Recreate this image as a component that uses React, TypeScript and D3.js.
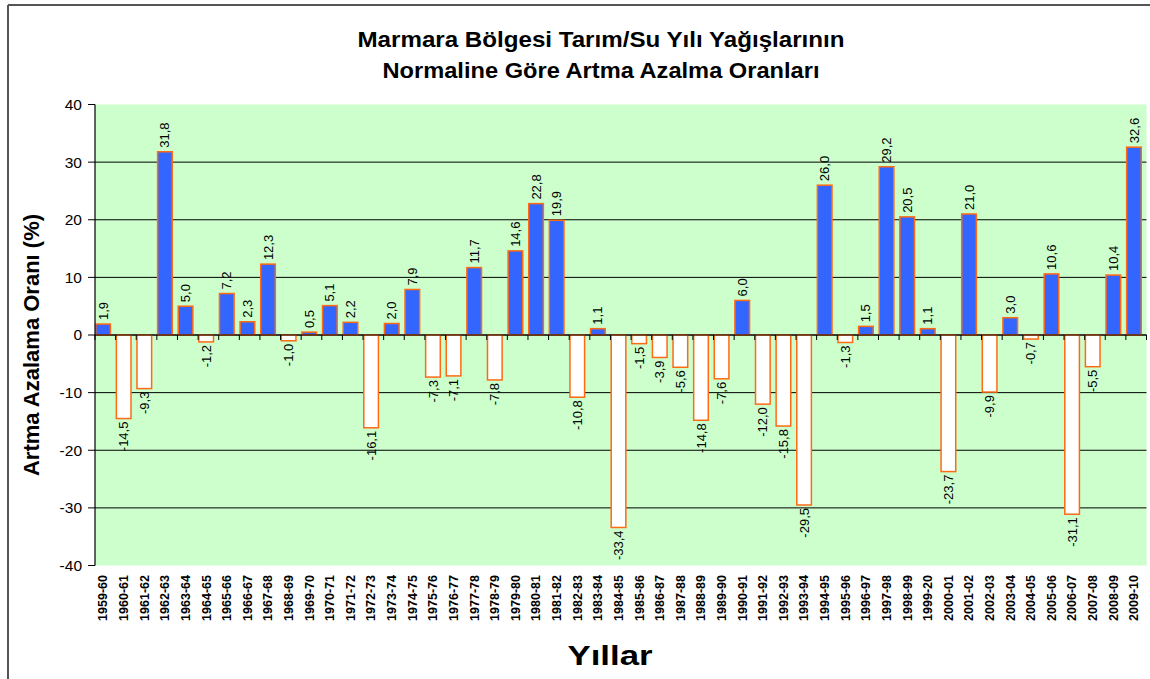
import React from "react";
import * as d3 from "d3";

const categories = [
  "1959-60","1960-61","1961-62","1962-63","1963-64","1964-65","1965-66","1966-67","1967-68","1968-69",
  "1969-70","1970-71","1971-72","1972-73","1973-74","1974-75","1975-76","1976-77","1977-78","1978-79",
  "1979-80","1980-81","1981-82","1982-83","1983-84","1984-85","1985-86","1986-87","1987-88","1988-89",
  "1989-90","1990-91","1991-92","1992-93","1993-94","1994-95","1995-96","1996-97","1997-98","1998-99",
  "1999-20","2000-01","2001-02","2002-03","2003-04","2004-05","2005-06","2006-07","2007-08","2008-09",
  "2009-10",
];

const values = [
  1.9, -14.5, -9.3, 31.8, 5.0, -1.2, 7.2, 2.3, 12.3, -1.0,
  0.5, 5.1, 2.2, -16.1, 2.0, 7.9, -7.3, -7.1, 11.7, -7.8,
  14.6, 22.8, 19.9, -10.8, 1.1, -33.4, -1.5, -3.9, -5.6, -14.8,
  -7.6, 6.0, -12.0, -15.8, -29.5, 26.0, -1.3, 1.5, 29.2, 20.5,
  1.1, -23.7, 21.0, -9.9, 3.0, -0.7, 10.6, -31.1, -5.5, 10.4,
  32.6,
];

const yTicks = [-40, -30, -20, -10, 0, 10, 20, 30, 40];

const titleLines = ["Marmara Bölgesi Tarım/Su Yılı Yağışlarının", "Normaline Göre Artma Azalma Oranları"];
const yTitle = "Artma Azalama Oranı (%)";
const xTitle = "Yıllar";

const W = 1150;
const H = 679;
const plotLeft = 95;
const plotRight = 1146.5;
const plotTop = 104.5;
const plotBottom = 565.5;

const FONT = "'Liberation Sans', Arial, sans-serif";
const BLUE = "#3366FF";
const ORANGE = "#FF6A13";
const GREEN = "#CCFFCC";

const titleWidths = [487, 437];

const fmt = (v: number) => v.toFixed(1).replace(".", ",");

export default function App() {
  const x = d3.scaleBand<string>().domain(categories).range([plotLeft, plotRight]).padding(0);
  const y = d3.scaleLinear().domain([-40, 40]).range([plotBottom, plotTop]);
  const bw = x.bandwidth() * 0.71;
  const y0 = y(0);

  return (
    <svg
      width={W}
      height={H}
      style={{ position: "absolute", left: 0, top: 0, background: "#fff" }}
      fontFamily={FONT}
    >
      {/* outer frame */}
      <line x1={8} y1={5} x2={W} y2={5} stroke="#555" strokeWidth={2} />
      <line x1={8} y1={5} x2={8} y2={H} stroke="#555" strokeWidth={2} />

      {/* title */}
      {titleLines.map((t, i) => (
        <text
          key={t}
          x={601}
          y={47 + i * 31}
          textAnchor="middle"
          fontSize={22}
          fontWeight="bold"
          fill="#000"
          textLength={titleWidths[i]}
          lengthAdjust="spacingAndGlyphs"
        >
          {t}
        </text>
      ))}

      {/* plot background */}
      <rect x={plotLeft} y={plotTop} width={plotRight - plotLeft} height={plotBottom - plotTop} fill={GREEN} />

      {/* gridlines */}
      {yTicks
        .filter((t) => t !== 40 && t !== -40)
        .map((t) => (
          <line key={"g" + t} x1={plotLeft} x2={plotRight} y1={y(t)} y2={y(t)} stroke="#000" strokeWidth={1} />
        ))}

      {/* bars */}
      {values.map((v, i) => {
        const c = categories[i];
        const bx = (x(c) as number) + 0.75;
        const top = y(Math.max(0, v));
        const bot = y(Math.min(0, v));
        return (
          <rect
            key={"b" + c}
            x={bx}
            y={top}
            width={bw}
            height={Math.max(0.5, bot - top)}
            fill={v >= 0 ? BLUE : "#fff"}
            stroke={ORANGE}
            strokeWidth={1.5}
          />
        );
      })}

      {/* zero axis with ticks */}
      <line x1={plotLeft} x2={plotRight} y1={y0} y2={y0} stroke="#000" strokeWidth={1} />
      {categories.map((c) => (
        <line
          key={"zt" + c}
          x1={(x(c) as number) + x.bandwidth()}
          x2={(x(c) as number) + x.bandwidth()}
          y1={y0}
          y2={y0 + 5}
          stroke="#000"
          strokeWidth={1}
        />
      ))}
      <line x1={plotLeft} x2={plotLeft} y1={y0} y2={y0 + 5} stroke="#000" strokeWidth={1} />

      {/* y axis */}
      <line x1={plotLeft} x2={plotLeft} y1={plotTop} y2={plotBottom} stroke="#000" strokeWidth={1.2} />
      {yTicks.map((t) => (
        <g key={"yt" + t}>
          <line x1={plotLeft - 7} x2={plotLeft} y1={y(t)} y2={y(t)} stroke="#000" strokeWidth={1} />
          <text x={82} y={y(t)} dy="0.35em" textAnchor="end" fontSize={15.5} fill="#000">
            {t}
          </text>
        </g>
      ))}

      {/* value labels */}
      {values.map((v, i) => {
        const c = categories[i];
        const cx = (x(c) as number) + 0.75 + bw / 2;
        const pos = v >= 0;
        const ly = pos ? y(v) - 4 : y(v) + 3;
        return (
          <text
            key={"vl" + c}
            transform={`translate(${cx},${ly}) rotate(-90)`}
            dy="0.35em"
            textAnchor={pos ? "start" : "end"}
            fontSize={13}
            fill="#000"
          >
            {fmt(v)}
          </text>
        );
      })}

      {/* x category labels */}
      {categories.map((c) => {
        const cx = (x(c) as number) + 0.75 + bw / 2;
        return (
          <text
            key={"xl" + c}
            transform={`translate(${cx},575) rotate(-90)`}
            dy="0.35em"
            textAnchor="end"
            fontSize={12.5}
            fontWeight="bold"
            fill="#000"
          >
            {c}
          </text>
        );
      })}

      {/* axis titles */}
      <text
        transform={`translate(31,${(plotTop + plotBottom) / 2 + 10}) rotate(-90)`}
        dy="0.35em"
        textAnchor="middle"
        fontSize={22}
        fontWeight="bold"
        fill="#000"
      >
        {yTitle}
      </text>
      <text
        x={610}
        y={665}
        textAnchor="middle"
        fontSize={28}
        fontWeight="bold"
        fill="#000"
        textLength={85}
        lengthAdjust="spacingAndGlyphs"
      >
        {xTitle}
      </text>
    </svg>
  );
}
